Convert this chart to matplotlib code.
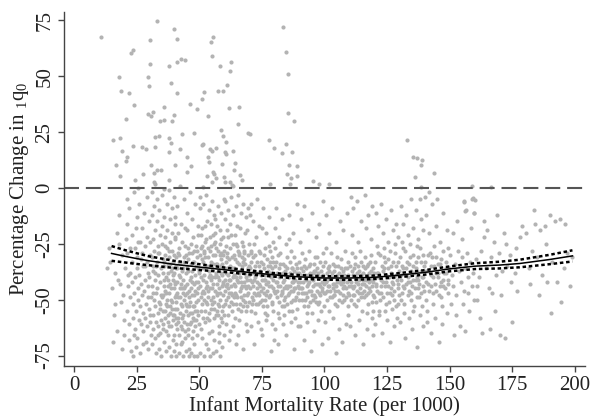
import matplotlib
matplotlib.use('Agg')
import matplotlib.pyplot as plt
import numpy as np

plt.rcParams['font.family'] = ['Liberation Serif', 'DejaVu Serif']
plt.rcParams['mathtext.default'] = 'regular'

# points above zero (read one by one)
pts_upper = [
    (10.6, 67.8), (33.1, 74.8), (39.9, 71.2), (41, 66.6), (30.3, 66.1), (22.6, 60.6), (23.4, 61.7), (30.2, 55.5),
    (38, 54.6), (41, 56.6), (42.6, 57.8), (44.3, 57.3), (17.8, 49.7), (29.4, 49.7), (29.9, 45.5), (18.6, 43.6),
    (21.8, 42.4), (38.7, 47.2), (41.2, 42.7), (24, 37), (20.8, 31), (35.8, 36.1), (29.7, 33), (30.9, 32.2),
    (31.4, 33.9), (34.3, 30), (35.9, 30.3), (39.1, 30), (40, 32.6), (46.4, 37.6), (49, 35.2), (51.2, 39.7),
    (51.9, 43.1), (15.7, 21.5), (18.4, 22.5), (32.3, 23), (33.8, 23.1), (38, 22.4), (38.8, 20), (43.1, 24),
    (47.9, 24.8), (51.2, 19.4), (19, 16.6), (21.3, 14), (20.6, 12.2), (16.9, 10.3), (18.4, 5.5), (23.7, 18.9),
    (27.3, 18.5), (28.7, 17.5), (32.2, 18.2), (38, 16.3), (42.2, 17.6), (45, 14), (46.8, 9.9), (45.2, 7.3),
    (40.4, 10.4), (30.7, 10.1), (27.4, 6.4), (31.9, 6.6), (33.1, 7.9), (34.6, 8.1), (24.2, 3.6), (38, 3.6),
    (31.9, 2.8), (32.5, 1.8), (42.4, 1), (83.3, 72.2), (84.8, 60.9), (85.6, 51), (85.3, 33.4), (87.7, 30),
    (54.7, 65.4), (55.6, 67.5), (55.2, 59.3), (58.2, 54.6), (62.5, 56.3), (62.3, 52.5), (61.2, 46), (57.4, 43.4),
    (59.4, 43.4), (61.7, 36), (66, 36.1), (53.6, 32.2), (65.6, 28.8), (58.6, 26), (59.6, 23.3), (60.7, 20.7),
    (69.6, 24.8), (70.3, 24), (51.4, 19.6), (54.3, 17.5), (55.2, 16.7), (56.7, 18), (53.5, 13.9), (53.9, 11.8),
    (60.4, 16), (60.8, 15.4), (63.6, 16.4), (59, 10.7), (64.1, 11.3), (64, 8.2), (55.6, 7), (55.9, 6.3),
    (53, 5.5), (56.6, 4.6), (55.2, 2.7), (59.9, 5.1), (66.1, 5.8), (67.2, 3.6), (60.4, 2.5), (62.3, 2.5),
    (62.9, 1.5), (63.6, 0.9), (51.6, 0.6), (77.8, 21.4), (79.7, 17.9), (84.6, 19.6), (83.2, 15.8), (86.9, 16.3),
    (85.7, 10.4), (89.1, 9.9), (85.2, 6.3), (88.9, 5.2), (86.5, 4.3), (86.2, 1.9), (78.1, 1.9), (95.5, 3.1),
    (97.8, 1.8), (101.9, 1.9), (132.8, 21.4), (135.5, 13.7), (137, 13.6), (138.8, 12.4), (138.7, 10.3),
    (136.1, 5.1), (143.8, 6.7), (138.4, 0.6), (159, 1), (166.3, 0.4), (25.6, 0.2), (35.9, -0.3),
    (140, -4), (141.8, -2), (138, -5), (144.9, -5), (159, -5), (155.7, -6.1), (159.4, -4.3), (160, -5.4),
    (156.1, -10.1), (159.8, -11.3),
]

pts_12_30 = [
    (14, -27), (14.3, -33), (15, -45), (16, -57), (16.4, -38), (17, -20), (17.2, -64), (18, -12), (18.3, -43),
    (18.6, -51), (19, -72), (19.2, -30), (19.5, -48), (20, -66), (20.3, -36), (16.2, -52), (17.5, -41),
    (18.1, -25), (19.8, -59), (15.4, -69), (20.6, -23), (13.2, -36),
    (21, -5), (21.3, -16), (21.1, -29), (21.6, -44), (21.2, -55), (21.8, -68), (22, -9), (22.3, -38), (22.5, -49),
    (22.1, -61), (22.7, -73), (23, -21), (23.3, -33), (23.1, -42), (23.6, -52), (23.4, -58), (23.8, -66),
    (24, -2), (24.2, -27), (24.5, -40), (24.1, -47), (24.7, -55), (24.4, -63), (24.9, -71), (25, -13),
    (25.3, -31), (25.1, -36), (25.6, -45), (25.4, -50), (25.8, -59), (25.2, -67), (26, -7), (26.3, -24),
    (26.1, -39), (26.6, -43), (26.4, -53), (26.8, -61), (26.2, -74), (27, -18), (27.3, -29), (27.5, -35),
    (27.1, -48), (27.7, -56), (27.4, -64), (28, -11), (28.2, -26), (28.5, -41), (28.1, -46), (28.7, -52),
    (28.4, -58), (28.9, -69), (29, -4), (29.3, -22), (29.1, -33), (29.6, -38), (29.4, -44), (29.8, -54),
    (29.2, -62), (29.7, -72), (30, -15), (30.3, -30), (30.1, -40), (30.6, -49), (30.4, -57), (30.8, -66),
    (22.4, -27), (24.6, -18), (26.7, -32), (28.3, -35), (27.6, -70), (23.5, -75), (25.7, -24), (29.5, -49),
    (30.2, -24), (21.4, -39),
]

pts_30_40 = [
    (31, -2), (31.2, -12), (31.4, -23), (31.1, -31), (31.6, -37), (31.3, -44), (31.8, -50), (31.5, -57),
    (31.7, -63), (31.2, -70), (32, -8), (32.3, -19), (32.1, -28), (32.6, -35), (32.4, -41), (32.8, -47),
    (32.2, -53), (32.7, -60), (32.5, -67), (32.9, -74), (33, -5), (33.2, -15), (33.5, -26), (33.1, -33),
    (33.7, -39), (33.3, -45), (33.8, -51), (33.4, -56), (33.6, -62), (33.9, -72), (34, -10), (34.3, -21),
    (34.1, -29), (34.6, -36), (34.4, -42), (34.8, -48), (34.2, -54), (34.7, -59), (34.5, -65), (34.9, -75),
    (35, -3), (35.3, -17), (35.1, -25), (35.6, -32), (35.4, -38), (35.8, -44), (35.2, -49), (35.7, -55),
    (35.5, -61), (35.9, -69), (36, -13), (36.2, -22), (36.5, -30), (36.1, -35), (36.7, -40), (36.3, -46),
    (36.8, -52), (36.4, -58), (36.6, -64), (36.9, -73), (37, -7), (37.3, -19), (37.1, -27), (37.6, -34),
    (37.4, -41), (37.8, -47), (37.2, -53), (37.7, -57), (37.5, -66), (37.9, -71), (38, -1), (38.2, -14),
    (38.5, -24), (38.1, -31), (38.7, -37), (38.3, -43), (38.8, -50), (38.4, -56), (38.6, -62), (38.9, -75),
    (39, -9), (39.3, -20), (39.1, -28), (39.6, -33), (39.4, -39), (39.8, -45), (39.2, -51), (39.7, -59),
    (39.5, -68), (39.9, -73), (40, -4), (40.2, -16), (40.5, -23), (40.1, -30), (40.7, -36), (40.3, -42),
    (40.8, -48), (40.4, -54), (40.6, -61), (40.9, -70), (30.5, -60), (31.5, -47), (32.5, -38), (33.5, -29),
    (34.5, -52), (35.5, -63), (36.5, -26), (37.5, -44), (38.5, -34), (39.5, -57), (39.5, -41), (37.5, -60),
    (35.5, -48), (33.5, -66), (31.5, -35),
]

pts_40_50 = [
    (40.3, -22), (40.8, -35), (41.2, -47), (41.6, -58), (42.1, -27), (42.5, -40), (42.9, -52), (43.3, -63),
    (43.8, -31), (44.2, -44), (44.6, -55), (45.1, -19), (45.5, -37), (45.9, -49), (46.3, -61), (46.8, -25),
    (47.2, -42), (47.6, -53), (48.1, -33), (48.5, -46), (48.9, -59), (49.4, -21), (49.8, -38), (40.6, -51),
    (41.0, -63), (41.4, -29), (41.9, -39), (42.3, -56), (42.7, -70), (43.1, -24), (43.6, -36), (44.0, -50),
    (44.4, -67), (44.9, -30), (45.3, -43), (45.7, -57), (46.1, -72), (46.6, -34), (47.0, -48), (47.4, -64),
    (47.9, -28), (48.3, -39), (48.7, -51), (49.1, -66), (49.6, -45), (40.2, -13), (41.3, -8), (42.6, -16),
    (43.9, -5), (45.0, -11), (46.2, -2), (47.3, -14), (48.4, -7), (49.5, -17), (41.7, -20), (44.5, -18),
    (47.7, -22), (40.9, -75), (42.0, -74), (43.4, -75), (44.7, -73), (45.8, -75), (46.9, -74), (48.0, -75),
    (49.2, -75), (43.0, -69), (45.4, -66), (47.8, -70), (49.9, -61), (40.4, -43), (41.1, -54), (41.8, -33),
    (42.4, -45), (43.2, -58), (43.7, -41), (44.3, -26), (44.8, -38), (45.2, -53), (45.6, -32), (46.0, -46),
    (46.4, -56), (46.7, -40), (47.1, -29), (47.5, -58), (48.0, -43), (48.6, -35), (49.0, -55), (49.3, -31),
    (49.7, -50), (40.7, -31), (41.5, -60), (42.2, -34), (43.5, -47), (44.1, -60), (45.4, -27), (46.5, -51),
    (47.3, -37), (48.2, -62), (48.8, -26), (49.4, -42), (40.1, -57), (42.8, -43), (44.4, -48), (46.2, -41),
    (47.9, -53), (49.7, -36), (41.4, -49), (43.3, -53), (45.0, -61), (46.9, -60),
]

pts_50_60 = [
    (50.2, -9), (50.6, -21), (51.0, -32), (51.4, -41), (51.8, -50), (52.2, -60), (52.6, -70), (53.0, -15),
    (53.4, -27), (53.8, -37), (54.2, -45), (54.6, -54), (55.0, -64), (55.4, -74), (55.8, -12), (56.2, -24),
    (56.6, -34), (57.0, -43), (57.4, -52), (57.8, -62), (58.2, -19), (58.6, -29), (59.0, -39), (59.4, -48),
    (59.8, -57), (50.4, -44), (50.9, -55), (51.3, -26), (51.7, -36), (52.1, -47), (52.5, -31), (52.9, -42),
    (53.3, -52), (53.7, -65), (54.1, -22), (54.5, -33), (54.9, -40), (55.3, -49), (55.7, -58), (56.1, -30),
    (56.5, -39), (56.9, -48), (57.3, -57), (57.7, -69), (58.1, -25), (58.5, -35), (58.9, -44), (59.3, -53),
    (59.7, -66), (50.1, -37), (50.7, -63), (51.1, -18), (51.6, -46), (52.0, -39), (52.4, -55), (52.8, -23),
    (53.2, -35), (53.6, -46), (54.0, -59), (54.4, -28), (54.8, -50), (55.2, -36), (55.6, -43), (56.0, -54),
    (56.4, -20), (56.8, -38), (57.2, -47), (57.6, -28), (58.0, -41), (58.4, -50), (58.8, -32), (59.2, -60),
    (59.6, -43), (50.5, -4), (51.5, -7), (52.7, -3), (53.9, -10), (55.1, -6), (56.3, -14), (57.5, -8),
    (58.7, -11), (59.9, -5), (50.8, -27), (52.3, -17), (54.7, -16), (57.1, -17), (59.5, -22), (50.3, -74),
    (51.9, -75), (53.5, -72), (54.3, -75), (56.7, -73), (58.3, -75), (59.1, -71), (51.2, -67), (55.9, -68),
    (57.9, -65), (50.6, -49), (51.5, -33), (52.6, -45), (53.1, -58), (54.6, -41), (55.4, -30), (56.2, -46),
    (57.0, -34), (57.8, -53), (58.6, -38), (59.4, -30), (52.0, -29), (53.7, -40), (55.0, -52), (56.6, -57),
    (58.2, -47), (59.8, -36), (51.0, -52), (53.5, -49), (55.7, -25), (57.4, -40), (58.9, -55), (54.1, -35),
]

pts_60_80 = [
    (60.2, -14), (60.6, -26), (61.0, -36), (61.4, -45), (61.8, -53), (62.2, -64), (62.6, -21), (63.0, -31),
    (63.4, -40), (63.8, -49), (64.2, -58), (64.6, -70), (65.0, -17), (65.4, -28), (65.8, -38), (66.2, -46),
    (66.6, -55), (67.0, -24), (67.4, -33), (67.8, -42), (68.2, -51), (68.6, -61), (69.0, -19), (69.4, -30),
    (69.8, -39), (60.4, -41), (60.8, -50), (61.2, -29), (61.6, -39), (62.0, -47), (62.4, -35), (62.8, -44),
    (63.2, -55), (63.6, -25), (64.0, -36), (64.4, -44), (64.8, -52), (65.2, -33), (65.6, -42), (66.0, -29),
    (66.4, -37), (66.8, -49), (67.2, -44), (67.6, -53), (68.0, -29), (68.4, -38), (68.8, -45), (69.2, -53),
    (69.6, -47), (60.3, -6), (61.3, -10), (62.5, -4), (63.5, -12), (64.5, -8), (65.5, -3), (66.5, -11),
    (67.5, -7), (68.5, -13), (69.5, -9), (60.9, -19), (62.1, -16), (64.1, -21), (66.1, -18), (68.1, -20),
    (69.9, -25), (60.5, -61), (61.7, -68), (63.3, -62), (65.3, -66), (67.3, -72), (68.9, -64), (60.7, -33),
    (61.5, -57), (62.3, -41), (63.1, -48), (63.9, -30), (64.7, -40), (65.1, -49), (65.9, -34), (66.7, -42),
    (67.1, -37), (67.9, -48), (68.3, -34), (69.1, -41), (69.7, -35), (60.1, -46), (61.9, -32), (62.7, -51),
    (64.3, -47), (65.7, -59), (66.3, -52), (67.7, -28), (68.7, -55), (69.3, -44), (61.1, -43), (64.9, -26),
    (66.9, -31), (63.7, -43), (62.9, -37), (60.6, -38),
    (70.2, -12), (70.7, -28), (71.2, -38), (71.7, -47), (72.2, -56), (72.7, -22), (73.2, -33), (73.7, -43),
    (74.2, -51), (74.7, -63), (75.2, -18), (75.7, -30), (76.2, -39), (76.7, -48), (77.2, -57), (77.7, -26),
    (78.2, -35), (78.7, -44), (79.2, -52), (79.7, -68), (70.4, -45), (70.9, -52), (71.4, -31), (71.9, -41),
    (72.4, -35), (72.9, -45), (73.4, -38), (73.9, -48), (74.4, -29), (74.9, -41), (75.4, -45), (75.9, -36),
    (76.4, -50), (76.9, -32), (77.4, -42), (77.9, -38), (78.4, -48), (78.9, -31), (79.4, -41), (79.9, -46),
    (70.6, -7), (71.6, -15), (73.0, -5), (74.0, -17), (75.5, -9), (76.8, -20), (78.0, -13), (79.3, -24),
    (70.8, -62), (72.0, -70), (73.5, -60), (75.0, -66), (76.5, -59), (78.5, -73), (79.0, -61), (70.3, -36),
    (71.0, -42), (71.8, -25), (72.6, -48), (73.3, -52), (74.1, -37), (74.8, -46), (75.6, -53), (76.1, -27),
    (76.6, -43), (77.3, -35), (77.8, -49), (78.6, -40), (79.1, -36), (79.6, -55), (70.5, -55), (72.3, -40),
    (74.5, -33), (75.8, -41), (77.0, -46), (78.3, -28), (79.5, -33), (71.3, -50), (73.8, -28), (76.3, -56),
]

pts_80_100 = [
    (80.2, -18), (80.7, -33), (81.2, -42), (81.7, -51), (82.2, -29), (82.7, -39), (83.2, -47), (83.7, -57),
    (84.2, -35), (84.7, -44), (85.2, -52), (85.7, -23), (86.2, -38), (86.7, -46), (87.2, -55), (87.7, -31),
    (88.2, -41), (88.7, -49), (89.2, -36), (89.7, -45), (80.4, -47), (80.9, -38), (81.4, -56), (81.9, -36),
    (82.4, -44), (82.9, -53), (83.4, -34), (83.9, -41), (84.4, -49), (84.9, -31), (85.4, -40), (85.9, -47),
    (86.4, -33), (86.9, -42), (87.4, -50), (87.9, -37), (88.4, -45), (88.9, -54), (89.4, -42), (89.9, -50),
    (80.5, -9), (81.8, -22), (83.0, -14), (84.5, -25), (86.0, -12), (87.5, -20), (89.0, -7), (80.3, -63),
    (81.5, -70), (83.3, -61), (84.8, -66), (86.5, -60), (88.0, -72), (89.5, -62), (80.8, -42), (81.6, -30),
    (82.5, -48), (83.5, -38), (84.0, -53), (85.0, -36), (85.6, -44), (86.6, -51), (87.0, -36), (87.8, -45),
    (88.6, -34), (89.3, -47), (80.1, -27), (82.0, -58), (84.3, -39), (86.8, -28), (88.3, -58), (89.8, -38),
    (81.0, -46), (83.8, -45), (85.8, -55), (87.3, -42),
    (90.2, -24), (90.7, -36), (91.2, -45), (91.7, -53), (92.2, -32), (92.7, -41), (93.2, -49), (93.7, -28),
    (94.2, -38), (94.7, -46), (95.2, -56), (95.7, -34), (96.2, -43), (96.7, -51), (97.2, -31), (97.7, -40),
    (98.2, -48), (98.7, -37), (99.2, -45), (99.7, -53), (90.4, -42), (90.9, -50), (91.4, -37), (91.9, -47),
    (92.4, -39), (92.9, -56), (93.4, -43), (93.9, -35), (94.4, -51), (94.9, -40), (95.4, -44), (95.9, -48),
    (96.4, -37), (96.9, -46), (97.4, -52), (97.9, -43), (98.4, -33), (98.9, -42), (99.4, -39), (99.9, -47),
    (90.5, -14), (92.0, -8), (93.5, -19), (95.0, -11), (96.5, -22), (98.0, -16), (99.5, -6), (90.3, -62),
    (91.8, -68), (93.0, -60), (94.5, -73), (96.0, -64), (97.5, -59), (99.0, -70), (91.0, -29), (92.5, -47),
    (94.0, -42), (95.5, -38), (97.0, -36), (98.5, -55), (99.3, -29), (90.8, -45), (93.3, -53), (96.3, -31),
    (98.3, -44), (92.8, -36), (95.3, -50), (97.8, -47),
]

pts_100_130 = [
    (100.2, -33), (100.7, -42), (101.2, -50), (101.7, -37), (102.2, -46), (102.7, -29), (103.2, -40),
    (103.7, -48), (104.2, -35), (104.7, -44), (105.2, -53), (105.7, -38), (106.2, -47), (106.7, -32),
    (107.2, -42), (107.7, -50), (108.2, -36), (108.7, -45), (109.2, -39), (109.7, -48), (100.4, -47),
    (100.9, -38), (101.4, -44), (101.9, -55), (102.4, -40), (102.9, -49), (103.4, -34), (103.9, -43),
    (104.4, -52), (104.9, -39), (105.4, -46), (105.9, -42), (106.4, -36), (106.9, -51), (107.4, -45),
    (107.9, -39), (108.4, -49), (108.9, -42), (109.4, -33), (109.9, -44), (100.5, -12), (101.8, -20),
    (103.0, -9), (104.5, -24), (106.0, -15), (107.5, -19), (109.0, -11), (100.3, -60), (101.5, -67),
    (103.3, -58), (104.8, -74), (105.8, -63), (107.0, -69), (108.5, -61), (109.5, -57), (100.8, -27),
    (102.0, -35), (103.5, -45), (105.0, -31), (106.5, -41), (108.0, -28), (109.3, -53), (101.0, -41),
    (104.0, -48), (107.3, -37),
    (110.2, -35), (110.7, -44), (111.2, -39), (111.7, -48), (112.2, -31), (112.7, -42), (113.2, -50),
    (113.7, -37), (114.2, -45), (114.7, -33), (115.2, -41), (115.7, -49), (116.2, -36), (116.7, -44),
    (117.2, -52), (117.7, -38), (118.2, -46), (118.7, -30), (119.2, -42), (119.7, -49), (110.4, -50),
    (110.9, -29), (111.4, -45), (111.9, -36), (112.4, -53), (112.9, -38), (113.4, -43), (113.9, -47),
    (114.4, -39), (114.9, -55), (115.4, -35), (115.9, -43), (116.4, -48), (116.9, -40), (117.4, -34),
    (117.9, -45), (118.4, -41), (118.9, -51), (119.4, -36), (119.9, -40), (110.5, -4), (111.5, -9),
    (113.0, -6), (114.5, -15), (116.0, -3), (117.5, -12), (119.0, -8), (111.0, -21), (113.5, -24),
    (116.5, -18), (118.5, -23), (110.3, -62), (112.0, -66), (113.8, -59), (115.5, -70), (117.0, -63),
    (118.8, -58), (119.5, -66), (111.8, -52), (114.0, -28), (115.0, -47), (116.8, -56), (118.0, -33),
    (119.3, -55),
    (120.2, -33), (120.7, -43), (121.2, -38), (121.7, -47), (122.2, -30), (122.7, -41), (123.2, -49),
    (123.7, -36), (124.2, -44), (124.7, -52), (125.2, -32), (125.7, -40), (126.2, -47), (126.7, -35),
    (127.2, -43), (127.7, -50), (128.2, -29), (128.7, -39), (129.2, -45), (129.7, -37), (120.4, -51),
    (120.9, -38), (121.4, -29), (121.9, -55), (122.4, -44), (122.9, -35), (123.4, -42), (123.9, -31),
    (124.4, -39), (124.9, -47), (125.4, -44), (125.9, -51), (126.4, -38), (126.9, -42), (127.4, -33),
    (127.9, -46), (128.4, -53), (128.9, -41), (129.4, -33), (129.9, -48), (120.5, -11), (121.5, -17),
    (122.5, -7), (123.5, -20), (124.5, -14), (125.5, -24), (126.5, -10), (127.5, -19), (128.5, -16),
    (129.5, -22), (120.3, -61), (121.8, -57), (123.0, -65), (124.8, -59), (126.0, -69), (127.8, -62),
    (129.0, -58), (121.0, -26), (123.8, -27), (126.3, -28), (128.0, -25), (122.0, -50), (124.0, -55),
    (126.8, -54), (129.3, -52),
]

pts_130_200 = [
    (130.2, -31), (130.7, -41), (131.2, -36), (131.7, -45), (132.2, -28), (132.7, -39), (133.2, -48),
    (133.7, -34), (134.2, -42), (134.7, -50), (135.2, -30), (135.7, -38), (136.2, -45), (136.7, -33),
    (137.2, -41), (137.7, -49), (138.2, -27), (138.7, -37), (139.2, -44), (139.7, -35), (130.4, -50),
    (130.9, -35), (131.4, -27), (131.9, -52), (132.4, -43), (132.9, -33), (133.4, -40), (133.9, -46),
    (134.4, -37), (134.9, -44), (135.4, -41), (135.9, -53), (136.4, -36), (136.9, -40), (137.4, -31),
    (137.9, -43), (138.4, -47), (138.9, -40), (139.4, -30), (139.9, -46), (130.5, -8), (131.5, -16),
    (132.5, -12), (133.5, -21), (134.5, -5), (135.5, -18), (136.5, -10), (137.5, -23), (138.5, -14),
    (139.5, -19), (130.3, -60), (132.0, -67), (133.8, -58), (135.0, -63), (136.8, -71), (138.0, -57),
    (139.3, -62), (131.0, -24), (134.0, -25), (137.0, -26), (131.8, -56), (135.3, -55), (138.8, -53),
    (140.2, -33), (140.7, -42), (141.2, -37), (141.7, -46), (142.2, -29), (142.7, -39), (143.2, -47),
    (143.7, -35), (144.2, -43), (144.7, -31), (145.2, -40), (145.7, -48), (146.2, -34), (146.7, -42),
    (147.2, -28), (147.7, -38), (148.2, -45), (148.7, -33), (149.2, -41), (149.7, -36), (140.4, -50),
    (141.4, -30), (142.4, -44), (143.4, -52), (144.4, -38), (145.4, -34), (146.4, -49), (147.4, -44),
    (148.4, -38), (149.4, -47), (140.5, -12), (141.8, -20), (143.0, -7), (144.5, -17), (146.0, -24),
    (147.5, -11), (149.0, -19), (140.8, -60), (142.5, -65), (144.0, -58), (145.8, -69), (147.0, -61),
    (148.8, -56), (141.0, -55), (143.8, -26), (146.8, -53), (149.5, -27),
    (150.3, -30), (150.9, -39), (151.5, -44), (152.1, -34), (152.7, -48), (153.3, -28), (153.9, -37),
    (154.5, -42), (155.1, -31), (155.7, -46), (156.3, -36), (156.9, -29), (157.5, -40), (158.1, -33),
    (158.7, -44), (159.3, -38), (150.6, -52), (152.4, -57), (154.2, -62), (156.0, -64), (157.8, -55),
    (159.6, -50), (151.2, -20), (153.0, -15), (154.8, -23), (156.6, -10), (158.4, -18), (155.7, -6),
    (159.8, -11), (151.8, -66), (155.4, -52), (157.2, -47),
    (160.5, -32), (161.5, -40), (162.5, -28), (163.5, -15), (163.8, -22), (164.5, -36), (165.5, -45),
    (166.5, -31), (167.5, -24), (168.5, -39), (169.5, -29), (170.5, -48), (171.5, -20), (172.5, -25),
    (173.0, -35), (174.0, -30), (175.0, -60), (176.0, -38), (177.0, -46), (178.0, -22), (179.0, -17),
    (161.0, -50), (162.0, -58), (163.0, -65), (166.0, -63), (168.0, -55), (170.0, -66), (172.0, -67),
    (174.5, -42), (169.0, -12), (165.0, -19), (176.5, -27), (160.8, -44), (167.0, -47), (171.0, -37),
    (180.5, -20), (181.5, -36), (182.0, -43), (183.0, -28), (184.0, -16), (185.0, -31), (186.0, -19),
    (187.0, -39), (188.0, -17), (189.0, -42), (190.0, -12), (191.0, -33), (192.0, -15), (193.0, -42),
    (194.0, -14), (194.6, -51), (195.5, -36), (196.0, -16), (197.0, -29), (198.0, -44), (199.0, -31),
    (185.5, -48), (190.5, -56), (183.5, -10), (188.5, -25),
]

# extra points in the dense core of the cloud
pts_core = [
    (35.8, -41), (36.3, -55), (36.9, -47), (37.4, -38), (37.9, -62), (38.3, -53), (38.8, -45), (39.3, -36),
    (39.8, -66), (40.2, -49), (40.7, -58), (41.3, -42), (41.8, -66), (42.2, -49), (42.6, -62), (43.0, -37),
    (43.5, -57), (43.9, -45), (44.3, -64), (44.8, -52), (45.2, -35), (45.7, -63), (46.1, -53), (46.6, -45),
    (47.0, -67), (47.4, -33), (47.9, -59), (48.3, -55), (48.8, -42), (49.2, -28), (49.7, -57), (36.1, -33),
    (38.0, -28), (40.0, -38), (42.0, -30), (44.0, -33), (46.0, -29), (48.0, -48), (37.0, -50), (39.0, -54),
    (41.0, -36), (43.0, -45), (45.0, -47), (47.0, -56), (49.0, -47),
    (50.2, -30), (50.6, -40), (51.0, -47), (51.4, -58), (51.8, -28), (52.2, -35), (52.6, -51), (53.0, -44),
    (53.4, -31), (53.8, -56), (54.2, -39), (54.6, -26), (55.0, -45), (55.4, -34), (55.8, -51), (56.2, -40),
    (56.6, -27), (57.0, -55), (57.4, -36), (57.8, -45), (58.2, -30), (58.6, -58), (59.0, -34), (59.4, -42),
    (59.8, -28), (60.2, -52), (60.6, -44), (61.0, -31), (61.4, -49), (61.8, -41), (62.2, -27), (62.6, -47),
    (63.0, -36), (63.4, -52), (63.8, -39), (64.2, -32), (64.6, -48), (65.0, -41), (65.4, -54), (65.8, -30),
    (66.2, -40), (66.6, -45), (67.0, -35), (67.4, -50), (67.8, -32), (68.2, -44), (68.6, -40), (69.0, -48),
    (69.4, -36), (69.8, -51), (70.2, -41), (70.6, -33), (71.0, -49), (71.4, -44), (71.8, -37), (72.2, -30),
    (72.6, -52), (73.0, -42), (73.4, -47), (73.8, -35), (74.2, -44), (74.6, -39), (75.0, -50), (55.5, -21),
    (58.5, -23), (61.5, -22), (64.5, -25), (67.5, -26), (52.5, -24), (70.5, -29),
    (75.4, -34), (75.9, -47), (76.4, -41), (76.9, -53), (77.4, -37), (77.9, -44), (78.4, -33), (78.9, -51),
    (79.4, -45), (79.9, -39), (80.4, -35), (80.9, -49), (81.4, -44), (81.9, -40), (82.4, -34), (82.9, -46),
    (83.4, -42), (83.9, -50), (84.4, -37), (84.9, -45), (85.4, -48), (85.9, -40), (86.4, -44), (86.9, -36),
    (87.4, -46), (87.9, -41), (88.4, -50), (88.9, -38), (89.4, -44), (89.9, -33), (90.4, -39), (90.9, -47),
    (91.4, -42), (91.9, -35), (92.4, -50), (92.9, -44), (93.4, -39), (93.9, -46), (94.4, -34), (94.9, -48),
    (95.4, -41), (95.9, -37), (96.4, -49), (96.9, -43), (97.4, -38), (97.9, -51), (98.4, -40), (98.9, -46),
    (99.4, -35), (99.9, -43), (100.4, -41), (100.9, -46), (101.4, -36), (101.9, -44), (102.4, -49),
    (102.9, -38), (103.4, -43), (103.9, -37), (104.4, -46), (104.9, -42), (105.4, -35), (105.9, -50),
    (106.4, -43), (106.9, -39), (107.4, -48), (107.9, -44), (108.4, -40), (108.9, -36), (109.4, -47),
    (109.9, -41),
    (110.4, -42), (110.9, -37), (111.4, -48), (111.9, -44), (112.4, -40), (112.9, -46), (113.4, -35),
    (113.9, -41), (114.4, -49), (114.9, -43), (115.4, -38), (115.9, -46), (116.4, -41), (116.9, -35),
    (117.4, -47), (117.9, -42), (118.4, -37), (118.9, -44), (119.4, -48), (119.9, -38), (120.4, -44),
    (121.4, -40), (122.4, -47), (123.4, -37), (124.4, -42), (125.4, -36), (126.4, -45), (127.4, -40),
    (128.4, -35), (129.4, -43), (130.4, -39), (131.4, -44), (132.4, -36), (133.4, -42), (134.4, -47),
    (135.4, -35), (136.4, -41), (137.4, -45), (138.4, -33), (139.4, -40), (140.4, -37), (141.4, -43),
    (142.4, -35), (143.4, -40), (144.4, -46), (145.4, -38), (146.4, -32), (147.4, -41), (148.4, -36),
    (149.4, -43), (121.0, -46), (124.0, -33), (127.0, -48), (131.0, -47), (134.0, -31), (137.0, -49),
    (143.0, -31), (146.0, -44), (116.0, -31), (112.0, -34),
]

# fitted curve and its confidence band
fit_x = [15, 20, 25, 30, 40, 50, 60, 70, 80, 90, 100, 110, 120, 130, 140, 150, 160, 170, 178, 190, 199]
fit_y = [-29.3, -30.5, -31.6, -32.6, -34.2, -35.4, -36.6, -37.8, -38.9, -39.8, -40.3, -40.3, -40.0,
         -39.0, -37.8, -36.2, -35.0, -34.5, -33.8, -32.0, -30.4]
ci_hi = [-26.0, -27.7, -29.2, -30.6, -32.6, -34.1, -35.6, -36.9, -38.1, -39.0, -39.5, -39.5, -39.2,
         -38.1, -36.8, -35.1, -33.7, -33.0, -32.1, -29.9, -27.9]
ci_lo = [-32.6, -33.3, -34.0, -34.6, -35.8, -36.7, -37.6, -38.7, -39.7, -40.6, -41.1, -41.1, -40.8,
         -39.9, -38.8, -37.3, -36.3, -36.0, -35.5, -34.1, -32.9]

x_ticks = [0, 25, 50, 75, 100, 125, 150, 175, 200]
y_ticks = [-75, -50, -25, 0, 25, 50, 75]

pts = np.array(pts_upper + pts_12_30 + pts_30_40 + pts_40_50 + pts_50_60 +
               pts_60_80 + pts_80_100 + pts_100_130 + pts_130_200 + pts_core)

fig = plt.figure(figsize=(5.94, 4.18), dpi=100)
ax = fig.add_axes([0.1077, 0.1244, 0.8771, 0.8469])

ax.scatter(pts[:, 0], pts[:, 1], s=9, color='#b3b3b3', linewidths=0, zorder=1)
ax.axhline(0, color='#555555', lw=1.5, linestyle=(0, (7.2, 3.3)), zorder=2)
ax.plot(fit_x, fit_y, color='black', lw=1.1, zorder=3)
ax.plot(fit_x, ci_hi, color='black', lw=1.8, linestyle=(0, (1.4, 1.1)), zorder=3)
ax.plot(fit_x, ci_lo, color='black', lw=1.8, linestyle=(0, (1.4, 1.1)), zorder=3)

ax.set_xlim(-4, 204)
ax.set_ylim(-79.7, 78.8)
ax.set_xticks(x_ticks)
ax.set_yticks(y_ticks)
ax.set_yticklabels([str(v) for v in y_ticks], rotation=90, va='center')

for s in ['top', 'right']:
    ax.spines[s].set_visible(False)
for s in ['left', 'bottom']:
    ax.spines[s].set_color('#444444')
    ax.spines[s].set_linewidth(1.0)
ax.tick_params(direction='out', length=4, width=1, color='#444444', labelsize=15,
               labelcolor='#222222', pad=3)

ax.set_xlabel('Infant Mortality Rate (per 1000)', fontsize=15, color='#222222', labelpad=1)
ax.set_ylabel('Percentage Change in $_1$q$_0$', fontsize=15, color='#222222', labelpad=3)

fig.savefig('out.png', dpi=100)
